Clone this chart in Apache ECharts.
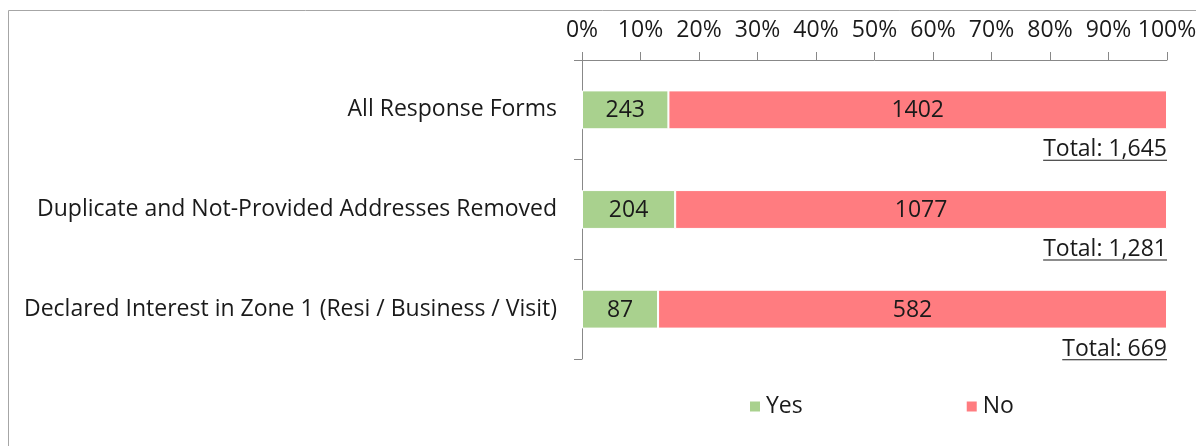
<!DOCTYPE html>
<html>
<head>
<meta charset="utf-8">
<script src="https://cdn.jsdelivr.net/npm/echarts@6/dist/echarts.min.js"></script>
<style>
  html, body { margin: 0; padding: 0; background: #fff; }
  #chart { width: 1196px; height: 446px; }
</style>
</head>
<body>
<div id="chart"></div>
<script>
// data
const categories = ['All Response Forms', 'Duplicate and Not-Provided Addresses Removed', 'Declared Interest in Zone 1 (Resi / Business / Visit)']
const yesCounts = [243, 204, 87]
const noCounts = [1402, 1077, 582]
const pctTicks = [0, 10, 20, 30, 40, 50, 60, 70, 80, 90, 100]

const FONT = 'Open Sans'
const FONT_SIZE = 23
const TEXT_COLOR = '#1a1a1a'
const AXIS_COLOR = '#888888'

const totals = yesCounts.map((y, i) => y + noCounts[i])
const yesPct = yesCounts.map((y, i) => y / totals[i] * 100)
const noPct = noCounts.map((n, i) => n / totals[i] * 100)

// measure text for the underline under the totals
const measureCtx = document.createElement('canvas').getContext('2d')
function textWidth(str) {
    measureCtx.font = FONT_SIZE + 'px "' + FONT + '"'
    return measureCtx.measureText(str).width
}

const chart = echarts.init(document.getElementById('chart'))
const option = {
    animation: false,
    textStyle: { fontFamily: FONT },
    graphic: [{
        type: 'rect',
        shape: { x: 8.5, y: 10.5, width: 1400, height: 600 },
        style: { fill: 'none', stroke: '#a6a6a6', lineWidth: 1 },
        silent: true
    }],
    grid: {
        left: 582,
        right: 29,
        top: 60,
        bottom: 87,
        containLabel: false,
        outerBoundsMode: 'none'
    },
    legend: {
        data: ['Yes', 'No'],
        left: 748,
        top: 395,
        padding: 0,
        itemWidth: 12,
        itemHeight: 12,
        itemGap: 162,
        icon: 'rect',
        textStyle: { fontSize: FONT_SIZE, color: TEXT_COLOR, fontFamily: FONT }
    },
    xAxis: {
        type: 'value',
        position: 'top',
        min: 0,
        max: 100,
        interval: 10,
        axisLine: { show: true, lineStyle: { color: AXIS_COLOR } },
        axisTick: { show: true, length: 8, lineStyle: { color: AXIS_COLOR } },
        splitLine: { show: false },
        axisLabel: {
            margin: 18,
            fontSize: FONT_SIZE,
            color: TEXT_COLOR,
            formatter: (v) => pctTicks.includes(v) ? v + '%' : ''
        }
    },
    yAxis: {
        type: 'category',
        inverse: true,
        data: categories,
        axisLine: { show: true, lineStyle: { color: AXIS_COLOR } },
        axisTick: { show: true, length: 8, lineStyle: { color: AXIS_COLOR } },
        axisLabel: {
            margin: 25,
            padding: [3, 0, 0, 0],
            fontSize: FONT_SIZE,
            color: TEXT_COLOR
        }
    },
    series: [
        {
            name: 'Yes',
            type: 'bar',
            stack: 'total',
            barWidth: '39%',
            data: yesPct,
            itemStyle: { color: '#a9d18e', borderColor: '#fff', borderWidth: 1 },
            label: {
                show: true,
                position: 'inside',
                offset: [0, 1],
                fontSize: FONT_SIZE,
                color: TEXT_COLOR,
                formatter: (p) => yesCounts[p.dataIndex]
            }
        },
        {
            name: 'No',
            type: 'bar',
            stack: 'total',
            barWidth: '39%',
            data: noPct,
            itemStyle: { color: '#ff7c80', borderColor: '#fff', borderWidth: 1 },
            label: {
                show: true,
                position: 'inside',
                offset: [0, 1],
                fontSize: FONT_SIZE,
                color: TEXT_COLOR,
                formatter: (p) => noCounts[p.dataIndex]
            }
        },
        {
            // "Total: n" under each bar, right aligned at 100%
            name: 'Total',
            type: 'custom',
            data: totals.map((t, i) => [100, i]),
            encode: { x: 0, y: 1 },
            silent: true,
            renderItem: function (params, api) {
                const pt = api.coord([api.value(0), api.value(1)])
                const str = 'Total: ' + totals[params.dataIndex].toLocaleString('en-US')
                const w = textWidth(str)
                const ty = pt[1] + 40
                return {
                    type: 'group',
                    children: [
                        {
                            type: 'text',
                            x: pt[0],
                            y: ty,
                            style: {
                                text: str,
                                align: 'right',
                                verticalAlign: 'middle',
                                fontSize: FONT_SIZE,
                                fontFamily: FONT,
                                fill: TEXT_COLOR
                            }
                        },
                        {
                            type: 'rect',
                            shape: { x: pt[0] - w, y: ty + 10, width: w, height: 1 },
                            style: { fill: TEXT_COLOR }
                        }
                    ]
                }
            }
        }
    ]
}
chart.setOption(option)
</script>
</body>
</html>
